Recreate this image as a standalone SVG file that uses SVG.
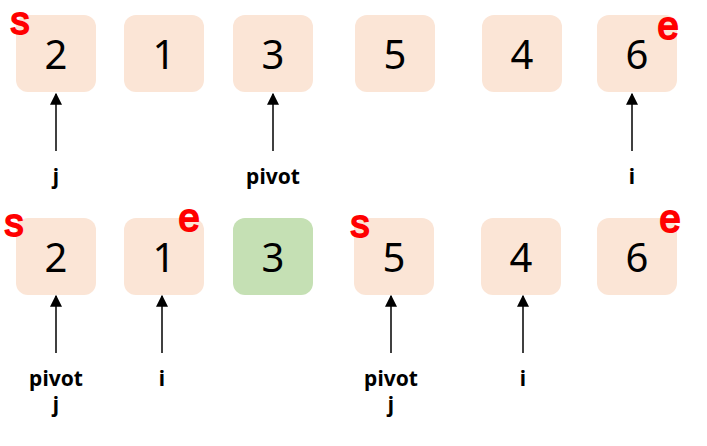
<svg xmlns="http://www.w3.org/2000/svg" width="707" height="446" viewBox="0 0 707 446">
<defs>
<style>
.box{fill:#fbe5d6}
.green{fill:#c5e0b4}
.num{font-family:"Noto Sans","Open Sans",sans-serif;font-size:40px;fill:#000;text-anchor:middle}
.lbl{font-family:"Noto Sans","Open Sans",sans-serif;font-size:21px;font-weight:bold;fill:#000;text-anchor:middle}
.mark{font-family:"Liberation Sans",sans-serif;font-size:38px;fill:#ff0000;stroke:#ff0000;stroke-width:2;text-anchor:middle}
.arr{stroke:#000;stroke-width:1.5;fill:none;marker-end:url(#ah)}
</style>
<marker id="ah" viewBox="0 0 10 10" refX="9" refY="5" markerWidth="12" markerHeight="12" markerUnits="userSpaceOnUse" orient="auto">
<path d="M0,0 L10,5 L0,10 z" fill="#000"/>
</marker>
</defs>
<rect width="707" height="446" fill="#fff"/>
<g id="top-row">
<g id="t1"><rect class="box" x="16" y="15" width="80" height="77" rx="12"/><text class="num" x="56" y="69">2</text></g>
<g id="t2"><rect class="box" x="124" y="15" width="80" height="77" rx="12"/><text class="num" x="164" y="69">1</text></g>
<g id="t3"><rect class="box" x="233" y="15" width="80" height="77" rx="12"/><text class="num" x="273" y="69">3</text></g>
<g id="t4"><rect class="box" x="355" y="15" width="80" height="77" rx="12"/><text class="num" x="395" y="69">5</text></g>
<g id="t5"><rect class="box" x="482" y="15" width="80" height="77" rx="12"/><text class="num" x="522" y="69">4</text></g>
<g id="t6"><rect class="box" x="597" y="15" width="80" height="77" rx="12"/><text class="num" x="637" y="69">6</text></g>
</g>
<g id="bottom-row">
<g id="b1"><rect class="box" x="16" y="218" width="80" height="77" rx="12"/><text class="num" x="56" y="272">2</text></g>
<g id="b2"><rect class="box" x="124" y="218" width="80" height="77" rx="12"/><text class="num" x="164" y="272">1</text></g>
<g id="b3"><rect class="green" x="233" y="218" width="80" height="77" rx="12"/><text class="num" x="273" y="272">3</text></g>
<g id="b4"><rect class="box" x="354" y="218" width="80" height="77" rx="12"/><text class="num" x="394" y="272">5</text></g>
<g id="b5"><rect class="box" x="481" y="218" width="80" height="77" rx="12"/><text class="num" x="521" y="272">4</text></g>
<g id="b6"><rect class="box" x="597" y="218" width="80" height="77" rx="12"/><text class="num" x="637" y="272">6</text></g>
</g>
<g id="marks">
<text class="mark" x="20" y="34">s</text>
<text class="mark" x="668" y="39">e</text>
<text class="mark" x="14" y="236">s</text>
<text class="mark" x="189" y="231">e</text>
<text class="mark" x="360" y="237">s</text>
<text class="mark" x="670" y="232">e</text>
</g>
<g id="connectors">
<line class="arr" x1="56" y1="151" x2="56" y2="94"/>
<line class="arr" x1="273" y1="151" x2="273" y2="94"/>
<line class="arr" x1="632" y1="151" x2="632" y2="94"/>
<line class="arr" x1="56" y1="353" x2="56" y2="296"/>
<line class="arr" x1="162" y1="353" x2="162" y2="296"/>
<line class="arr" x1="391" y1="353" x2="391" y2="296"/>
<line class="arr" x1="523" y1="353" x2="523" y2="296"/>
</g>
<g id="labels">
<text class="lbl" x="56" y="184">j</text>
<text class="lbl" x="273" y="184">pivot</text>
<text class="lbl" x="632" y="184">i</text>
<text class="lbl" x="56" y="386">pivot</text>
<text class="lbl" x="56" y="412">j</text>
<text class="lbl" x="162" y="386">i</text>
<text class="lbl" x="391" y="386">pivot</text>
<text class="lbl" x="391" y="412">j</text>
<text class="lbl" x="523" y="386">i</text>
</g>
</svg>
